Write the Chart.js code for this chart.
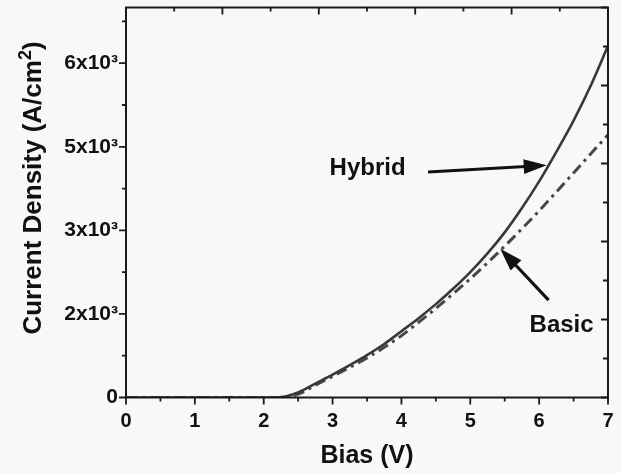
<!DOCTYPE html>
<html><head><meta charset="utf-8">
<script src="https://cdn.jsdelivr.net/npm/chart.js@4/dist/chart.umd.min.js"></script>
<style>html,body{margin:0;padding:0;background:#f8f8f8;}canvas{display:block;}</style>
</head><body>
<canvas id="c" width="621" height="473"></canvas>
<script>
// ---- data ----
const biasV    = [0, 0.5, 1, 1.5, 2, 2.2, 2.5, 2.75, 3, 3.25, 3.5, 3.75, 4, 4.25, 4.5, 4.75, 5, 5.25, 5.5, 5.75, 6, 6.25, 6.5, 6.75, 7];
const hybridJ  = [0, 0, 0, 0, 0, 0, 90, 250, 410, 580, 760, 960, 1190, 1424, 1676, 1951, 2251, 2586, 2964, 3400, 3880, 4410, 4970, 5600, 6313];
const basicJ   = [0, 0, 0, 0, 0, 0, 60, 220, 380, 540, 710, 900, 1110, 1350, 1600, 1860, 2132, 2417, 2717, 3029, 3351, 3690, 4030, 4375, 4714];
const xTickValues = [0, 1, 2, 3, 4, 5, 6, 7];
const xTickLabels = ['0', '1', '2', '3', '4', '5', '6', '7'];
const yTickValues = [0, 1500, 3000, 4500, 6000];
const yTickLabels = ['0', '2x10³', '3x10³', '5x10³', '6x10³'];
const seriesNames = ['Hybrid', 'Basic'];
const xTitle = 'Bias (V)';
const yTitleParts = ['Current Density (A/cm', '2', ')'];
// annotation anchors in data units
const labelX = [2.957, 5.861];
const labelY = [3990, 1173];
const arrowFromX = [4.386, 6.137];
const arrowFromY = [4047, 1748];
const arrowToX = [6.11, 5.435];
const arrowToY = [4167, 2671];

const FONT = "'Liberation Sans', Arial, Helvetica, sans-serif";
Chart.defaults.font.family = FONT;
Chart.defaults.color = '#111';

function noPad(s) { s.paddingTop = 0; s.paddingBottom = 0; s.paddingLeft = 0; s.paddingRight = 0; }

const frame = {
  id: 'frame',
  afterDatasetsDraw(chart) {
    const c = chart.ctx, a = chart.chartArea;
    const sx = chart.scales.x, sy = chart.scales.y, sx2 = chart.scales.x2, sy2 = chart.scales.y2;
    c.save();
    c.strokeStyle = '#1a1a1a';
    c.lineWidth = 2;
    c.strokeRect(a.left, a.top, a.right - a.left, a.bottom - a.top);
    c.lineWidth = 1.8;
    c.beginPath();
    for (let v = 0; v <= 7.0001; v += 0.5) {
      const p = sx.getPixelForValue(v);
      const len = Math.abs(v - Math.round(v)) < 1e-6 ? 7 : 4;
      c.moveTo(p, a.bottom); c.lineTo(p, a.bottom + len);
    }
    for (let v = 0; v <= 7000; v += 750) {
      const p = sy.getPixelForValue(v);
      const len = (v % 1500 === 0) ? 7 : 4;
      c.moveTo(a.left, p); c.lineTo(a.left - len, p);
    }
    for (let k = 0; k <= 10; k++) {
      const p = sx2.getPixelForValue(0.7 * k);
      const len = k % 2 === 0 ? 7 : 4;
      c.moveTo(p, a.top); c.lineTo(p, a.top + len);
    }
    for (let k = 0; k <= 10; k++) {
      const p = sy2.getPixelForValue(700 * k);
      const len = k % 2 === 0 ? 7 : 5;
      c.moveTo(a.right, p); c.lineTo(a.right - len, p);
    }
    c.stroke();

    // y axis title with superscript
    c.fillStyle = '#111';
    c.save();
    c.translate(41, 188);
    c.rotate(-Math.PI / 2);
    c.textBaseline = 'alphabetic';
    c.textAlign = 'left';
    const big = 'bold 26px ' + FONT, small = 'bold 18px ' + FONT;
    c.font = big; const w0 = c.measureText(yTitleParts[0]).width, w2 = c.measureText(yTitleParts[2]).width;
    c.font = small; const w1 = c.measureText(yTitleParts[1]).width;
    let tx = -(w0 + w1 + w2) / 2;
    c.font = big; c.fillText(yTitleParts[0], tx, 0); tx += w0;
    c.font = small; c.fillText(yTitleParts[1], tx, -10); tx += w1;
    c.font = big; c.fillText(yTitleParts[2], tx, 0);
    c.restore();

    // annotations
    c.strokeStyle = '#111';
    c.font = 'bold 24px ' + FONT;
    c.textBaseline = 'alphabetic';
    c.textAlign = 'left';
    for (let i = 0; i < seriesNames.length; i++) {
      c.fillText(seriesNames[i], sx.getPixelForValue(labelX[i]), sy.getPixelForValue(labelY[i]));
      const x0 = sx.getPixelForValue(arrowFromX[i]), y0 = sy.getPixelForValue(arrowFromY[i]);
      const x1 = sx.getPixelForValue(arrowToX[i]), y1 = sy.getPixelForValue(arrowToY[i]);
      const ang = Math.atan2(y1 - y0, x1 - x0);
      const hl = 23, hw = 7.5;
      const bx = x1 - hl * Math.cos(ang), by = y1 - hl * Math.sin(ang);
      c.lineWidth = 3.2;
      c.beginPath(); c.moveTo(x0, y0); c.lineTo(bx + 2 * Math.cos(ang), by + 2 * Math.sin(ang)); c.stroke();
      c.beginPath();
      c.moveTo(x1, y1);
      c.lineTo(bx + hw * Math.sin(ang), by - hw * Math.cos(ang));
      c.lineTo(bx - hw * Math.sin(ang), by + hw * Math.cos(ang));
      c.closePath(); c.fill();
    }
    c.restore();
  }
};

new Chart(document.getElementById('c'), {
  type: 'line',
  data: {
    datasets: [
      { label: seriesNames[0], data: biasV.map((x, i) => ({ x, y: hybridJ[i] })),
        borderColor: '#383838', borderWidth: 2.6, pointRadius: 0, cubicInterpolationMode: 'monotone', fill: false },
      { label: seriesNames[1], data: biasV.map((x, i) => ({ x, y: basicJ[i] })),
        borderColor: '#474747', borderWidth: 3, borderDash: [11, 5, 3, 5], pointRadius: 0, cubicInterpolationMode: 'monotone', fill: false }
    ]
  },
  options: {
    responsive: false, animation: false,
    layout: { padding: { left: 0, right: 13, top: 7.5, bottom: 0 } },
    plugins: { legend: { display: false }, tooltip: { enabled: false } },
    scales: {
      x: {
        type: 'linear', position: 'bottom', min: 0, max: 7,
        afterBuildTicks(s) { s.ticks = xTickValues.map(v => ({ value: v })); },
        ticks: { padding: 12, font: { size: 20, weight: 'bold' }, color: '#111', maxRotation: 0,
          callback(v) { const i = xTickValues.indexOf(v); return i >= 0 ? xTickLabels[i] : ''; } },
        grid: { display: false, drawTicks: false }, border: { display: false },
        title: { display: true, text: xTitle, font: { size: 25, weight: 'bold' }, color: '#111', padding: { top: 0, bottom: 2 } },
        afterFit(s) { s.height = 75.5; noPad(s); }
      },
      x2: {
        type: 'linear', position: 'top', min: 0, max: 7,
        ticks: { display: false }, grid: { display: false, drawTicks: false }, border: { display: false },
        afterFit(s) { s.height = 0; noPad(s); }
      },
      y: {
        type: 'linear', position: 'left', min: 0, max: 7000,
        afterBuildTicks(s) { s.ticks = yTickValues.map(v => ({ value: v })); },
        ticks: { padding: 8, font: { size: 21, weight: 'bold' }, color: '#111',
          callback(v) { const i = yTickValues.indexOf(v); return i >= 0 ? yTickLabels[i] : ''; } },
        grid: { display: false, drawTicks: false }, border: { display: false },
        afterFit(s) { s.width = 126; noPad(s); }
      },
      y2: {
        type: 'linear', position: 'right', min: 0, max: 7000,
        ticks: { display: false }, grid: { display: false, drawTicks: false }, border: { display: false },
        afterFit(s) { s.width = 0; noPad(s); }
      }
    }
  },
  plugins: [frame]
});
</script>
</body></html>
